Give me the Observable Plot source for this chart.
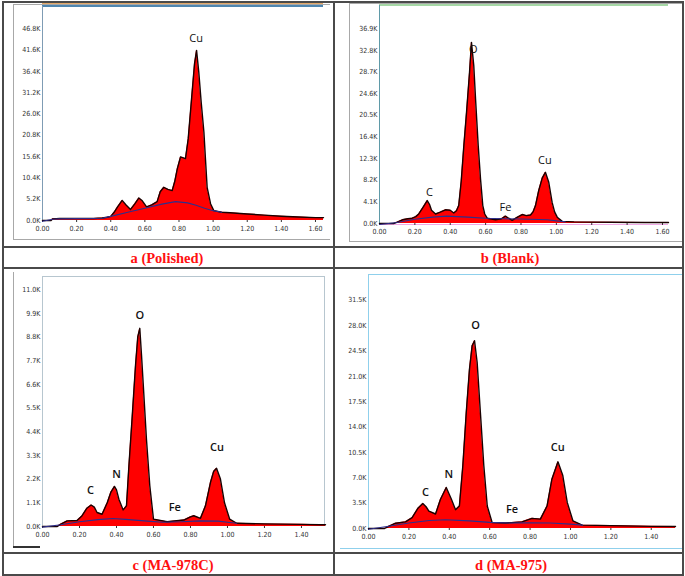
<!DOCTYPE html>
<html><head><meta charset="utf-8">
<script src="https://cdn.jsdelivr.net/npm/d3@7"></script>
<script src="https://cdn.jsdelivr.net/npm/@observablehq/plot@0.6"></script>
<style>
body{margin:0;background:#fff;}
#wrap{position:relative;width:685px;height:576px;overflow:hidden;background:#fff;}
.ln{position:absolute;}
.cap{position:absolute;font-family:"Liberation Serif","Times New Roman",serif;font-weight:bold;font-size:14.5px;color:#ff1010;white-space:nowrap;transform:translate(-50%,-50%);}
.pn{position:absolute;}
</style></head><body><div id="wrap"></div>
<script>
// ---------- Data (energy in keV, counts in thousands) ----------
const captions = ["a (Polished)", "b (Blank)", "c (MA-978C)", "d (MA-975)"];

const aE = [0.00,0.05,0.06,0.10,0.20,0.30,0.35,0.38,0.40,0.42,0.44,0.467,0.49,0.516,0.54,0.565,0.585,0.61,0.64,0.672,0.69,0.711,0.735,0.76,0.775,0.79,0.809,0.838,0.854,0.877,0.891,0.903,0.916,0.930,0.946,0.955,0.965,0.985,1.004,1.05,1.10,1.20,1.30,1.40,1.50,1.60,1.647];
const aC = [0.0,0.0,0.4,0.5,0.5,0.5,0.6,0.8,1.0,2.0,3.3,4.9,3.8,2.7,4.0,5.5,4.8,3.3,3.8,4.6,7.0,8.1,7.6,7.3,9.5,12.6,15.5,15.1,19.9,31.3,38.2,41.5,36.2,28.9,21.6,15.1,8.1,4.1,2.4,2.0,1.9,1.6,1.3,1.05,0.85,0.7,0.7];
const aBgE = [0.00,0.06,0.10,0.20,0.30,0.35,0.40,0.50,0.60,0.70,0.78,0.85,0.90,0.95,1.00,1.05];
const aBgC = [-0.2,0.3,0.4,0.45,0.5,0.55,1.0,2.0,3.0,4.0,4.6,4.3,3.7,3.0,2.4,2.0];
const aLab = ["Cu"], aLabE = [0.90], aLabC = [44.4];
const aYTicks = [0,5.2,10.4,15.6,20.8,26.0,31.2,36.4,41.6,46.8];
const aXTicks = [0,0.2,0.4,0.6,0.8,1.0,1.2,1.4,1.6];

const bE = [0.00,0.08,0.10,0.13,0.16,0.185,0.205,0.222,0.245,0.27,0.283,0.294,0.317,0.34,0.373,0.40,0.42,0.435,0.448,0.462,0.477,0.492,0.509,0.520,0.533,0.543,0.558,0.571,0.584,0.595,0.609,0.656,0.69,0.712,0.73,0.75,0.78,0.807,0.83,0.854,0.868,0.882,0.90,0.92,0.938,0.957,0.976,0.99,1.005,1.033,1.10,1.30,1.50,1.634];
const bC = [0.0,0.0,0.25,0.7,0.9,1.0,1.3,1.8,3.0,4.35,3.6,2.5,1.8,2.1,2.6,2.5,2.0,2.4,3.4,8.0,14.8,21.0,28.6,34.3,29.9,23.6,14.8,8.5,3.4,1.8,1.0,0.7,0.9,1.4,1.0,0.6,1.2,1.7,1.5,1.6,2.2,3.4,6.2,8.6,9.7,7.8,4.0,2.2,1.2,0.4,0.3,0.25,0.2,0.2];
const bBgE = [0.00,0.10,0.20,0.30,0.38,0.50,0.60,0.70,0.80,0.90,0.95,1.00,1.05];
const bBgC = [-0.2,0.2,0.8,1.2,1.4,1.2,1.0,0.9,0.85,0.75,0.7,0.5,0.3];
const bLab = ["C","O","Fe","Cu"], bLabE = [0.283,0.53,0.712,0.935], bLabC = [5.8,33.0,3.1,11.9];
const bYTicks = [0,4.1,8.2,12.3,16.4,20.5,24.6,28.7,32.8,36.9];
const bXTicks = [0,0.2,0.4,0.6,0.8,1.0,1.2,1.4,1.6];

const cE = [0.00,0.08,0.097,0.133,0.187,0.214,0.24,0.263,0.28,0.295,0.322,0.35,0.37,0.389,0.40,0.413,0.436,0.454,0.467,0.485,0.503,0.515,0.526,0.535,0.544,0.562,0.58,0.60,0.674,0.764,0.80,0.818,0.854,0.881,0.908,0.925,0.941,0.962,0.984,1.012,1.05,1.20,1.40,1.50,1.53];
const cC = [0.0,0.0,0.1,0.26,0.28,0.5,0.85,1.0,0.9,0.65,0.57,1.1,1.6,1.86,1.7,1.27,0.77,0.96,2.8,5.1,7.5,8.8,9.2,8.0,6.7,4.05,1.9,0.34,0.22,0.3,0.45,0.5,0.38,0.96,2.04,2.55,2.7,2.2,1.1,0.34,0.15,0.12,0.1,0.08,0.08];
const cBgE = [0.00,0.10,0.20,0.30,0.38,0.45,0.55,0.65,0.75,0.85,0.95,1.00,1.05];
const cBgC = [-0.03,0.08,0.22,0.32,0.37,0.33,0.26,0.2,0.22,0.26,0.25,0.2,0.15];
const cLab = ["C","N","O","Fe","Cu"], cLabE = [0.26,0.40,0.526,0.715,0.944], cLabC = [1.66,2.43,9.78,0.88,3.67];
const cYTicks = [0,1.1,2.2,3.3,4.4,5.5,6.6,7.7,8.8,9.9,11.0];
const cXTicks = [0,0.2,0.4,0.6,0.8,1.0,1.2,1.4];

const dE = [0.00,0.08,0.10,0.134,0.183,0.216,0.245,0.269,0.285,0.299,0.332,0.356,0.385,0.411,0.431,0.45,0.467,0.484,0.50,0.513,0.525,0.538,0.554,0.571,0.588,0.612,0.678,0.76,0.81,0.851,0.884,0.908,0.938,0.962,0.984,1.012,1.058,1.20,1.40,1.52];
const dC = [0.0,0.0,0.3,0.73,0.92,1.5,2.8,3.45,3.0,2.4,2.0,4.0,5.66,4.0,2.6,3.1,8.65,16.0,22.0,25.2,25.9,22.9,16.0,8.65,3.1,0.83,0.75,0.92,1.4,1.3,3.1,6.8,9.2,7.3,3.6,1.06,0.46,0.4,0.3,0.28];
const dBgE = [0.00,0.10,0.20,0.30,0.38,0.50,0.60,0.70,0.80,0.90,1.00,1.06];
const dBgC = [-0.1,0.3,0.75,1.1,1.2,1.05,0.85,0.75,0.78,0.75,0.6,0.46];
const dLab = ["C","N","O","Fe","Cu"], dLabE = [0.282,0.398,0.53,0.711,0.937], dLabC = [5.0,7.5,28.0,2.66,11.2];
const dYTicks = [0,3.5,7.0,10.5,14.0,17.5,21.0,24.5,28.0,31.5];
const dXTicks = [0,0.2,0.4,0.6,0.8,1.0,1.2,1.4];

// ---------- Layout helpers ----------
const wrap = document.getElementById("wrap");
function line(x, y, w, h, color) {
  const d = document.createElement("div");
  d.className = "ln";
  Object.assign(d.style, {left: x + "px", top: y + "px", width: w + "px", height: h + "px", background: color});
  wrap.appendChild(d);
}
function caption(text, cx, cy) {
  const d = document.createElement("div");
  d.className = "cap"; d.textContent = text;
  d.style.left = cx + "px"; d.style.top = cy + "px";
  wrap.appendChild(d);
}
const zip = (xs, ys) => xs.map((x, i) => ({x, y: ys[i]}));

function panel(o) {
  const ML = 30, MR = 4, MT = 2, MB = 16;
  const spec = zip(o.E, o.C);
  const bg = zip(o.bgE, o.bgC);
  const labs = o.lab.map((t, i) => ({t, x: o.labE[i], y: o.labC[i]}));
  const chart = Plot.plot({
    width: (o.x1 - o.x0) + ML + MR,
    height: (o.yBase - o.yTop) + MT + MB,
    marginLeft: ML, marginRight: MR, marginTop: MT, marginBottom: MB,
    style: {fontFamily: "'Liberation Sans Narrow','DejaVu Sans Condensed',sans-serif", fontSize: "7px", color: "#333", background: "transparent", overflow: "visible"},
    x: {domain: [0, o.xMax], ticks: o.xTicks, tickFormat: d3.format(".2f"), tickSize: 2, tickPadding: 4, label: null},
    y: {domain: [0, o.yMax], ticks: o.yTicks, tickFormat: d => d3.format(".1f")(d) + "K", tickSize: 0, tickPadding: 2, label: null},
    marks: [
      Plot.areaY(spec, {x: "x", y: "y", fill: "#ff0000"}),
      Plot.line(spec, {x: "x", y: "y", stroke: "#1a0000", strokeWidth: 1.4}),
      Plot.line(bg, {x: "x", y: "y", stroke: "#2e2f8c", strokeWidth: 1.1}),
      Plot.text(labs, {x: "x", y: "y", text: "t", fill: "#111", fontSize: 11, fontWeight: o.bold ? 600 : 400, fontFamily: "'Open Sans','DejaVu Sans',sans-serif"})
    ]
  });
  chart.classList.add("pn");
  chart.style.left = (o.x0 - ML) + "px";
  chart.style.top = (o.yTop - MT) + "px";
  wrap.appendChild(chart);
}

// ---------- Panel decorations ----------
// a
line(13, 4, 317, 1, "#a8a8a8"); line(13, 4, 1, 235, "#a8a8a8"); line(13, 239, 317, 1, "#a8a8a8");
line(42, 3, 281, 1, "#e4a868"); line(42, 5, 281, 2, "#4f86b0"); line(42, 6, 1, 214, "#7f9cb4");
// b
line(349, 3, 334, 1, "#a8a8a8"); line(349, 3, 1, 238, "#a8a8a8"); line(349, 241, 334, 1, "#a8a8a8");
line(379, 4, 289, 2, "#a6d8a6"); line(379, 5, 1, 218, "#5f9aa8"); line(379, 224, 289, 1, "#f0a8e6");
// c
line(13, 272, 1, 275, "#a8a8a8"); line(13, 546, 27, 2, "#333");
line(42, 276, 283, 1, "#b7c6cf"); line(324, 276, 1, 250, "#b7c6cf"); line(42, 276, 1, 250, "#b7c6cf");
// d
line(368, 274, 315, 1, "#8fd0ec"); line(368, 274, 1, 254, "#8fd0ec"); line(340, 548, 343, 1, "#8fd0ec");

panel({x0: 42, x1: 323, yBase: 220, yTop: 6, xMax: 1.647, yMax: 52.2, E: aE, C: aC, bgE: aBgE, bgC: aBgC, lab: aLab, labE: aLabE, labC: aLabC, yTicks: aYTicks, xTicks: aXTicks, bold: false});
panel({x0: 379, x1: 668, yBase: 223, yTop: 7, xMax: 1.634, yMax: 40.9, E: bE, C: bC, bgE: bBgE, bgC: bBgC, lab: bLab, labE: bLabE, labC: bLabC, yTicks: bYTicks, xTicks: bXTicks, bold: false});
panel({x0: 42, x1: 325, yBase: 526, yTop: 277, xMax: 1.53, yMax: 11.56, E: cE, C: cC, bgE: cBgE, bgC: cBgC, lab: cLab, labE: cLabE, labC: cLabC, yTicks: cYTicks, xTicks: cXTicks, bold: true});
panel({x0: 368, x1: 675, yBase: 528, yTop: 275, xMax: 1.52, yMax: 34.9, E: dE, C: dC, bgE: dBgE, bgC: dBgC, lab: dLab, labE: dLabE, labC: dLabC, yTicks: dYTicks, xTicks: dXTicks, bold: true});

// ---------- Table grid ----------
const G = "#4a4a4a";
line(2, 1, 682, 2, G);      // top
line(2, 574, 682, 2, G);    // bottom
line(2, 1, 2, 575, G);      // left
line(682, 1, 2, 575, G);    // right
line(333, 1, 1.5, 575, G);  // middle
line(2, 246, 682, 1.5, G);
line(2, 267, 682, 1.5, G);
line(2, 552, 682, 1.5, G);

caption(captions[0], 167, 258);
caption(captions[1], 510, 258);
caption(captions[2], 173, 565);
caption(captions[3], 511, 565);
</script></body></html>
